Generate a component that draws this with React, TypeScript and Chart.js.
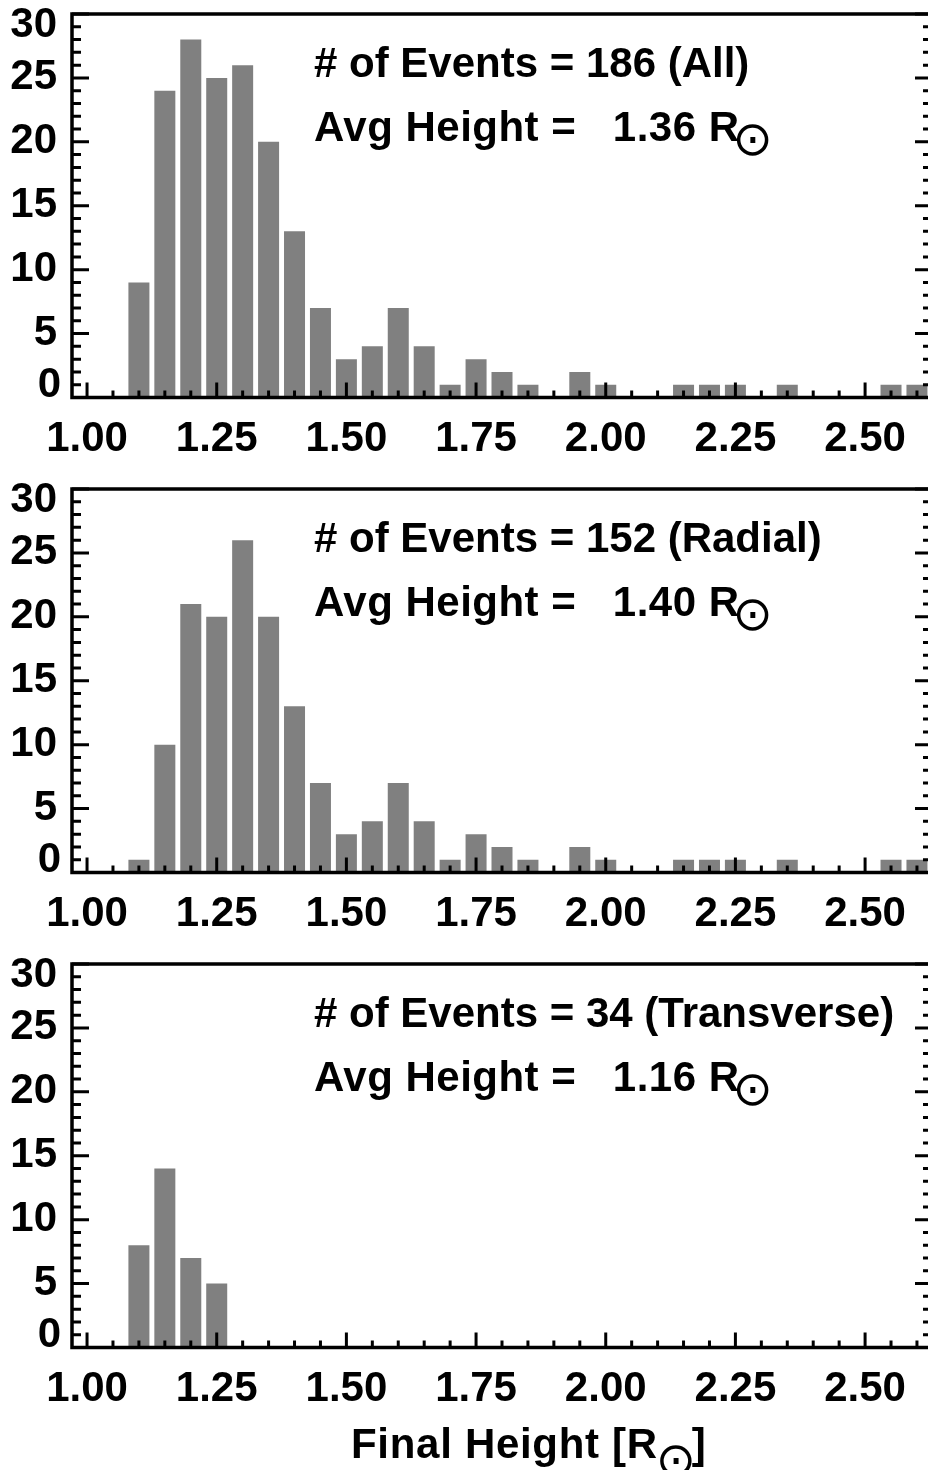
import React, { useEffect, useRef } from 'react';
import { Chart, registerables } from 'chart.js';

Chart.register(...registerables);

// ---------- data ----------
const BIN_CENTERS = [
  1.10, 1.15, 1.20, 1.25, 1.30, 1.35, 1.40, 1.45, 1.50, 1.55, 1.60, 1.65, 1.70, 1.75, 1.80, 1.85,
  1.90, 1.95, 2.00, 2.05, 2.10, 2.15, 2.20, 2.25, 2.30, 2.35, 2.40, 2.45, 2.50, 2.55, 2.60,
];
const COUNTS_ALL = [
  9, 24, 28, 25, 26, 20, 13, 7, 3, 4, 7, 4, 1, 3, 2, 1,
  0, 2, 1, 0, 0, 1, 1, 1, 0, 1, 0, 0, 0, 1, 1,
];
const COUNTS_RADIAL = [
  1, 10, 21, 20, 26, 20, 13, 7, 3, 4, 7, 4, 1, 3, 2, 1,
  0, 2, 1, 0, 0, 1, 1, 1, 0, 1, 0, 0, 0, 1, 1,
];
const COUNTS_TRANSVERSE = [
  8, 14, 7, 5, 0, 0, 0, 0, 0, 0, 0, 0, 0, 0, 0, 0,
  0, 0, 0, 0, 0, 0, 0, 0, 0, 0, 0, 0, 0, 0, 0,
];
const X_TICKS = [1.0, 1.25, 1.5, 1.75, 2.0, 2.25, 2.5];
const Y_TICKS = [0, 5, 10, 15, 20, 25, 30];
const PANEL_NAMES = ['All', 'Radial', 'Transverse'];
const EVENT_TOTALS = [186, 152, 34];
const AVG_HEIGHTS = ['1.36', '1.40', '1.16'];
const X_TITLE_MAIN = 'Final Height [R';
const X_TITLE_END = ']';
const SUN = '\u2299';

// ---------- layout / style ----------
const X_MIN = 0.971;
const X_MAX = 2.629;
const Y_MIN = 0;
const Y_MAX = 30;
const X_MINOR_STEP = 0.05;
const Y_MINOR_STEP = 1;
const FONT = '"Liberation Sans", Arial, Helvetica, sans-serif';
const SYM_FONT = '"DejaVu Sans", sans-serif';
const CANVAS_W = 940;
const PLOT_TOP = 14;
const PLOT_BOTTOM = 397.5;
const PLOT_LEFT = 72;
const PLOT_RIGHT = 932;
const BAR_COLOR = '#808080';

type PanelProps = {
  counts: number[];
  name: string;
  total: number;
  avg: string;
  height: number;
  showTitle: boolean;
};

function makeIdlPlugin(p: PanelProps) {
  return {
    id: 'idlAxes',
    afterDatasetsDraw(chart: any) {
      const ctx: any = chart.ctx;
      const { left, right, top, bottom } = chart.chartArea;
      const xs = chart.scales.x;
      const ys = chart.scales.y;
      ctx.save();
      ctx.strokeStyle = '#000';
      ctx.fillStyle = '#000';

      // ticks
      ctx.lineWidth = 3;
      ctx.lineCap = 'butt';
      ctx.beginPath();
      for (let k = 0; k <= Math.round((Y_MAX - Y_MIN) / Y_MINOR_STEP); k++) {
        const v = Y_MIN + k * Y_MINOR_STEP;
        const py = ys.getPixelForValue(v);
        const major = Y_TICKS.includes(v);
        const len = major ? 17 : 9;
        ctx.moveTo(left, py);
        ctx.lineTo(left + len, py);
        ctx.moveTo(right, py);
        ctx.lineTo(right - len, py);
      }
      const nX = Math.round((2.6 - 1.0) / X_MINOR_STEP);
      for (let k = 0; k <= nX; k++) {
        const v = +(1.0 + k * X_MINOR_STEP).toFixed(2);
        const px = xs.getPixelForValue(v);
        const major = X_TICKS.some((t) => Math.abs(t - v) < 1e-6);
        const len = major ? 15 : 7;
        ctx.moveTo(px, bottom);
        ctx.lineTo(px, bottom - len);
      }
      ctx.stroke();

      // frame
      ctx.lineWidth = 3.5;
      ctx.lineCap = 'square';
      ctx.beginPath();
      ctx.moveTo(left, top);
      ctx.lineTo(right, top);
      ctx.lineTo(right, bottom);
      ctx.lineTo(left, bottom);
      ctx.closePath();
      ctx.stroke();

      // y labels
      ctx.font = `bold 42px ${FONT}`;
      ctx.textAlign = 'right';
      ctx.textBaseline = 'middle';
      for (const v of Y_TICKS) {
        let py = ys.getPixelForValue(v);
        let px = 57;
        if (v === Y_MAX) py += 11;
        if (v === Y_MIN) {
          py -= 12.5;
          px = 61;
        }
        ctx.fillText(String(v), px, py);
      }

      // annotations
      ctx.textAlign = 'left';
      ctx.textBaseline = 'alphabetic';
      ctx.font = `bold 42px ${FONT}`;
      ctx.fillText(`# of Events = ${p.total} (${p.name})`, 314, 77);
      const line2 = `Avg Height =   ${p.avg} R`;
      ctx.letterSpacing = '0.5px';
      ctx.fillText(line2, 314, 141);
      const w2 = ctx.measureText(line2).width;
      ctx.letterSpacing = '0px';
      ctx.font = `48px ${SYM_FONT}`;
      ctx.textAlign = 'center';
      ctx.textBaseline = 'middle';
      ctx.fillText(SUN, 314 + w2 + 13, 143);

      // x-axis title
      if (p.showTitle) {
        const base = 508;
        ctx.font = `bold 42px ${FONT}`;
        ctx.textAlign = 'left';
        ctx.textBaseline = 'alphabetic';
        ctx.letterSpacing = '0.7px';
        ctx.fillText(X_TITLE_MAIN, 351, base);
        const wt = ctx.measureText(X_TITLE_MAIN).width;
        ctx.letterSpacing = '0px';
        ctx.font = `48px ${SYM_FONT}`;
        ctx.textAlign = 'center';
        ctx.textBaseline = 'middle';
        const cx = 351 + wt + 18;
        ctx.fillText(SUN, cx, base + 6);
        ctx.font = `bold 42px ${FONT}`;
        ctx.textAlign = 'left';
        ctx.textBaseline = 'alphabetic';
        ctx.fillText(X_TITLE_END, cx + 16, base);
      }
      ctx.restore();
    },
  };
}

function Panel(p: PanelProps) {
  const ref = useRef<HTMLCanvasElement | null>(null);
  useEffect(() => {
    if (!ref.current) return;
    const chart = new Chart(ref.current, {
      type: 'bar',
      data: {
        datasets: [
          {
            data: BIN_CENTERS.map((x, i) => ({ x, y: p.counts[i] })),
            backgroundColor: BAR_COLOR,
            borderWidth: 0,
            barPercentage: 0.81,
            categoryPercentage: 1,
          } as any,
        ],
      },
      options: {
        responsive: false,
        animation: false,
        devicePixelRatio: 1,
        events: [],
        layout: { padding: { top: PLOT_TOP, left: 0, right: CANVAS_W - PLOT_RIGHT, bottom: 0 } },
        plugins: {
          legend: { display: false },
          tooltip: { enabled: false },
          title: { display: false },
        },
        scales: {
          x: {
            type: 'linear',
            min: X_MIN,
            max: X_MAX,
            offset: false,
            grid: { display: false, drawTicks: false, offset: false },
            border: { display: false },
            afterBuildTicks: (s: any) => {
              s.ticks = X_TICKS.map((v) => ({ value: v }));
            },
            afterFit: (s: any) => {
              s.height = p.height - PLOT_BOTTOM;
            },
            ticks: {
              autoSkip: false,
              maxRotation: 0,
              minRotation: 0,
              padding: 17,
              color: '#000',
              font: { family: FONT, size: 42, weight: 'bold' },
              callback: (v: any) => Number(v).toFixed(2),
            },
          },
          y: {
            type: 'linear',
            min: Y_MIN,
            max: Y_MAX,
            grid: { display: false, drawTicks: false },
            border: { display: false },
            ticks: { display: false },
            afterFit: (s: any) => {
              s.width = PLOT_LEFT;
            },
          },
        },
      } as any,
      plugins: [makeIdlPlugin(p)],
    });
    return () => chart.destroy();
  }, []);
  return <canvas ref={ref} width={CANVAS_W} height={p.height} style={{ display: 'block' }} />;
}

export default function App() {
  const panels = [
    { counts: COUNTS_ALL, height: 475, top: 0 },
    { counts: COUNTS_RADIAL, height: 475, top: 475 },
    { counts: COUNTS_TRANSVERSE, height: 520, top: 950 },
  ];
  return (
    <div
      style={{
        position: 'absolute',
        left: 0,
        top: 0,
        width: 928,
        height: 1470,
        overflow: 'hidden',
        background: '#fff',
      }}
    >
      {panels.map((pl, i) => (
        <div key={i} style={{ position: 'absolute', left: 0, top: pl.top, width: CANVAS_W, height: pl.height }}>
          <Panel
            counts={pl.counts}
            name={PANEL_NAMES[i]}
            total={EVENT_TOTALS[i]}
            avg={AVG_HEIGHTS[i]}
            height={pl.height}
            showTitle={i === 2}
          />
        </div>
      ))}
    </div>
  );
}
